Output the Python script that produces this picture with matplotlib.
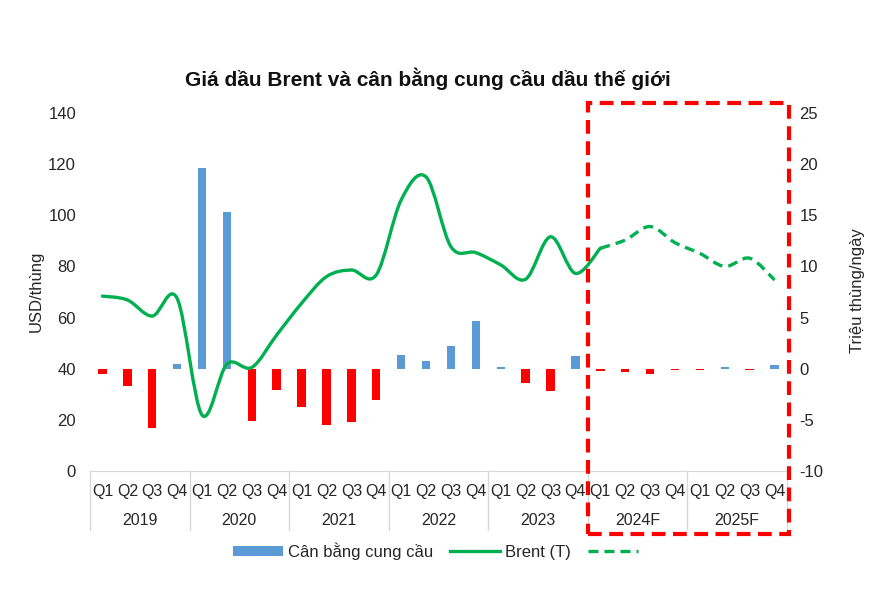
import numpy as np
import matplotlib
matplotlib.use("Agg")
import matplotlib.pyplot as plt
from matplotlib.path import Path
from matplotlib.patches import PathPatch, Patch, Rectangle
from matplotlib.lines import Line2D
import matplotlib.transforms as mtransforms

plt.rcParams['font.family'] = ['Liberation Sans', 'DejaVu Sans']
plt.rcParams['axes.unicode_minus'] = False

years = ["2019", "2020", "2021", "2022", "2023", "2024F", "2025F"]
quarters = ["Q1", "Q2", "Q3", "Q4"]
# Brent price, USD/thung (left axis)
brent = [68.4, 66.9, 60.6, 67.5, 21.9, 41.8, 40.5, 53.2, 65.6, 76.0, 78.6, 76.7,
         106.0, 115.0, 87.7, 85.4, 80.6, 75.0, 91.6, 77.3,
         87.1, 90.3, 95.6, 89.3, 85.1, 80.0, 83.2, 74.7]
# supply-demand balance, million barrels/day (right axis)
balance = [-0.5, -1.7, -5.8, 0.5, 19.6, 15.3, -5.1, -2.1, -3.75, -5.5, -5.2, -3.1,
           1.3, 0.75, 2.2, 4.7, 0.2, -1.4, -2.2, 1.2,
           -0.2, -0.3, -0.5, -0.1, -0.1, 0.2, -0.1, 0.4]
first_forecast = 20  # index of 2024 Q1

green = "#00B050"
blue = "#5B9BD5"
red = "#FF0000"
txt = "#262626"

n = len(brent)
x = np.arange(n)

fig = plt.figure(figsize=(8.86, 5.97), dpi=100)
ax = fig.add_axes([90/886, 1-471/597, 697/886, 358/597])
ax2 = ax.twinx()

# bars on the right axis
colors = [blue if v >= 0 else red for v in balance]
ax2.bar(x, balance, width=0.34, color=colors, zorder=2)
ax2.set_ylim(-10, 25)
ax2.set_yticks(np.arange(-10, 26, 5))

# smoothed Brent line, drawn as bezier curves like excel does
def smooth_path(xs, ys):
    pts = np.column_stack([xs, ys])
    verts = [pts[0]]
    codes = [Path.MOVETO]
    for i in range(len(pts) - 1):
        p0 = pts[i - 1] if i > 0 else pts[i]
        p1 = pts[i]
        p2 = pts[i + 1]
        p3 = pts[i + 2] if i + 2 < len(pts) else pts[i + 1]
        c1 = p1 + (p2 - p0) / 6.0
        c2 = p2 - (p3 - p1) / 6.0
        verts += [c1, c2, p2]
        codes += [Path.CURVE4] * 3
    return Path(verts, codes)

ax.set_zorder(ax2.get_zorder() + 1)
ax.patch.set_visible(False)
solid = smooth_path(x[:first_forecast + 1], brent[:first_forecast + 1])
dash = smooth_path(x[first_forecast:], brent[first_forecast:])
ax.add_patch(PathPatch(solid, fill=False, edgecolor=green, lw=2.4, capstyle='round'))
ax.add_patch(PathPatch(dash, fill=False, edgecolor=green, lw=2.4, linestyle=(0, (3, 1.8))))
ax.set_ylim(0, 140)
ax.set_yticks(np.arange(0, 141, 20))
ax.set_xlim(-0.5, n - 0.5)
ax.set_xticks([])

for a in (ax, ax2):
    for s in a.spines.values():
        s.set_visible(False)
    a.tick_params(length=0, labelsize=12, labelcolor=txt)
ax.tick_params(axis='y', pad=10)
ax2.tick_params(axis='y', pad=9)
ax.spines['bottom'].set_visible(True)
ax.spines['bottom'].set_color("#D9D9D9")

# category axis: quarters and years
trans = mtransforms.blended_transform_factory(ax.transData, ax.transAxes)
for i in range(n):
    ax.text(i, -0.056, quarters[i % 4], transform=trans, ha='center', va='center',
            fontsize=11.5, color=txt)
for k, yr in enumerate(years):
    ax.text(4 * k + 1.5, -0.137, yr, transform=trans, ha='center', va='center',
            fontsize=11.5, color=txt)
for k in range(len(years) + 1):
    ax.plot([4 * k - 0.5, 4 * k - 0.5], [0, -0.165], transform=trans, color="#D9D9D9",
            lw=1, clip_on=False)

ax.set_ylabel("USD/thùng", fontsize=12, color=txt)
ax.yaxis.set_label_coords((44 - 90) / 697, (471 - 291) / 358)
ax2.set_ylabel("Triệu thùng/ngày", fontsize=12, color=txt, rotation=90)
ax2.yaxis.set_label_coords((850 - 90) / 697, (471 - 291) / 358)

fig.text(428/886, 1-79/597, "Giá dầu Brent và cân bằng cung cầu dầu thế giới",
         ha='center', va='center', fontsize=15, fontweight='bold', color="#111111")

# forecast frame
rect = Rectangle((first_forecast - 0.5, -0.175), n - first_forecast + 0.1, 1.203,
                 transform=trans, fill=False, edgecolor=red, lw=3,
                 linestyle=(0, (3.3, 1.8)), clip_on=False, zorder=5)
ax.add_patch(rect)

handles = [Patch(facecolor=blue, edgecolor='none'),
           Line2D([], [], color=green, lw=2.4),
           Line2D([], [], color=green, lw=2.4, linestyle=(0, (3, 1.8)))]
fig.legend(handles, ["Cân bằng cung cầu", "Brent (T)", ""], loc='center',
           bbox_to_anchor=(438/886, 1-551/597), ncol=3, frameon=False,
           fontsize=12, handlelength=3.0, handleheight=0.5, columnspacing=1.0,
           handletextpad=0.3, labelcolor=txt)

fig.savefig("out.png", dpi=100)
